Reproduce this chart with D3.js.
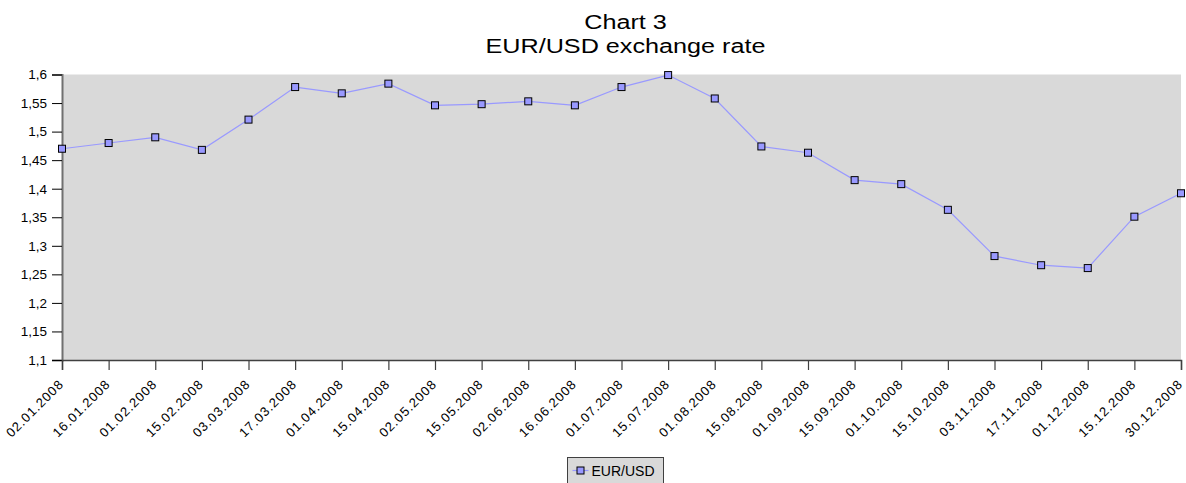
<!DOCTYPE html>
<html>
<head>
<meta charset="utf-8">
<script src="https://cdn.jsdelivr.net/npm/d3@7"></script>
<style>
  body { margin: 0; background: #fff; }
  svg { display: block; font-family: "Liberation Sans", Arial, sans-serif; }
</style>
</head>
<body>
<svg id="chart" width="1186" height="483"></svg>
<script>
// Fortnightly EUR/USD fixings, 2008
const dates = ["02.01.2008","16.01.2008","01.02.2008","15.02.2008","03.03.2008","17.03.2008",
  "01.04.2008","15.04.2008","02.05.2008","15.05.2008","02.06.2008","16.06.2008","01.07.2008",
  "15.07.2008","01.08.2008","15.08.2008","01.09.2008","15.09.2008","01.10.2008","15.10.2008",
  "03.11.2008","17.11.2008","01.12.2008","15.12.2008","30.12.2008"];
const eurUsd = [1.470,1.480,1.490,1.468,1.521,1.578,1.567,1.584,1.546,1.548,1.553,1.546,1.578,
  1.599,1.558,1.474,1.463,1.415,1.408,1.363,1.282,1.266,1.261,1.351,1.392];
const yTicks = [1.1,1.15,1.2,1.25,1.3,1.35,1.4,1.45,1.5,1.55,1.6];
const titleLines = ["Chart 3", "EUR/USD exchange rate"];
const seriesName = "EUR/USD";

const svg = d3.select("#chart");
const plotLeft = 62, plotRight = 1181, plotTop = 74.5, plotBottom = 360;

const x = d3.scalePoint().domain(dates).range([plotLeft, plotRight]);
const y = d3.scaleLinear().domain([1.1, 1.6]).range([plotBottom, plotTop]);

// plot area
svg.append("rect").attr("x", plotLeft).attr("y", plotTop)
  .attr("width", plotRight - plotLeft).attr("height", plotBottom - plotTop)
  .attr("fill", "#d9d9d9");

// title, set in a slightly widened face
svg.append("g")
  .attr("transform", `translate(${(plotLeft + plotRight) / 2 + 4},0) scale(1.2,1)`)
  .selectAll("text").data(titleLines).join("text")
  .attr("x", 0).attr("y", (d, i) => 29 + i * 24.5)
  .attr("text-anchor", "middle").attr("font-size", 21)
  .attr("fill", "#000")
  .text(d => d);

// y axis
const yAxis = svg.append("g").attr("transform", `translate(${plotLeft},0)`)
  .call(d3.axisLeft(y).tickValues(yTicks).tickSize(10).tickPadding(5)
    .tickFormat(d => String(+d.toFixed(2)).replace(".", ",")));
yAxis.select(".domain").attr("stroke", "#707070").attr("stroke-width", 2);
yAxis.selectAll(".tick line").attr("stroke", "#000").attr("stroke-width", 1);
yAxis.selectAll(".tick text").attr("font-size", 13.5).attr("fill", "#000")
  .attr("font-family", "Liberation Sans, Arial, sans-serif");

// x axis
const xAxis = svg.append("g").attr("transform", `translate(0,${plotBottom})`)
  .call(d3.axisBottom(x).tickSize(10).tickPadding(4));
xAxis.select(".domain").attr("stroke", "#404040").attr("stroke-width", 1.5);
xAxis.selectAll(".tick line").attr("stroke", "#404040").attr("stroke-width", 1.2);
xAxis.selectAll(".tick text")
  .attr("font-size", 13).attr("letter-spacing", "1px").attr("fill", "#000")
  .attr("font-family", "Liberation Sans, Arial, sans-serif")
  .attr("text-anchor", "end")
  .attr("dy", 0)
  .attr("transform", "translate(2,25) rotate(-45)")
  .attr("y", 0).attr("x", 0);

// series line
const data = dates.map((d, i) => ({ d, v: eurUsd[i] }));
svg.append("path").datum(data)
  .attr("fill", "none").attr("stroke", "#9999ff").attr("stroke-width", 1.2)
  .attr("d", d3.line().x(p => x(p.d)).y(p => y(p.v)));

// markers
svg.append("g").selectAll("rect").data(data).join("rect")
  .attr("x", p => x(p.d) - 3.5).attr("y", p => y(p.v) - 3.5)
  .attr("width", 7).attr("height", 7)
  .attr("fill", "#9999ff").attr("stroke", "#000").attr("stroke-width", 1);

// legend
const lg = svg.append("g").attr("transform", "translate(567.5,457.5)");
lg.append("rect").attr("x", 0).attr("y", 0).attr("width", 96).attr("height", 32)
  .attr("fill", "#d9d9d9").attr("stroke", "#404040").attr("stroke-width", 1);
lg.append("line").attr("x1", 5).attr("x2", 21).attr("y1", 13).attr("y2", 13)
  .attr("stroke", "#9999ff").attr("stroke-width", 1.2);
lg.append("rect").attr("x", 9.5).attr("y", 9.5).attr("width", 7).attr("height", 7)
  .attr("fill", "#9999ff").attr("stroke", "#000").attr("stroke-width", 1);
lg.append("text").attr("x", 24).attr("y", 18.5).attr("font-size", 14).attr("fill", "#000")
  .text(seriesName);
</script>
</body>
</html>
